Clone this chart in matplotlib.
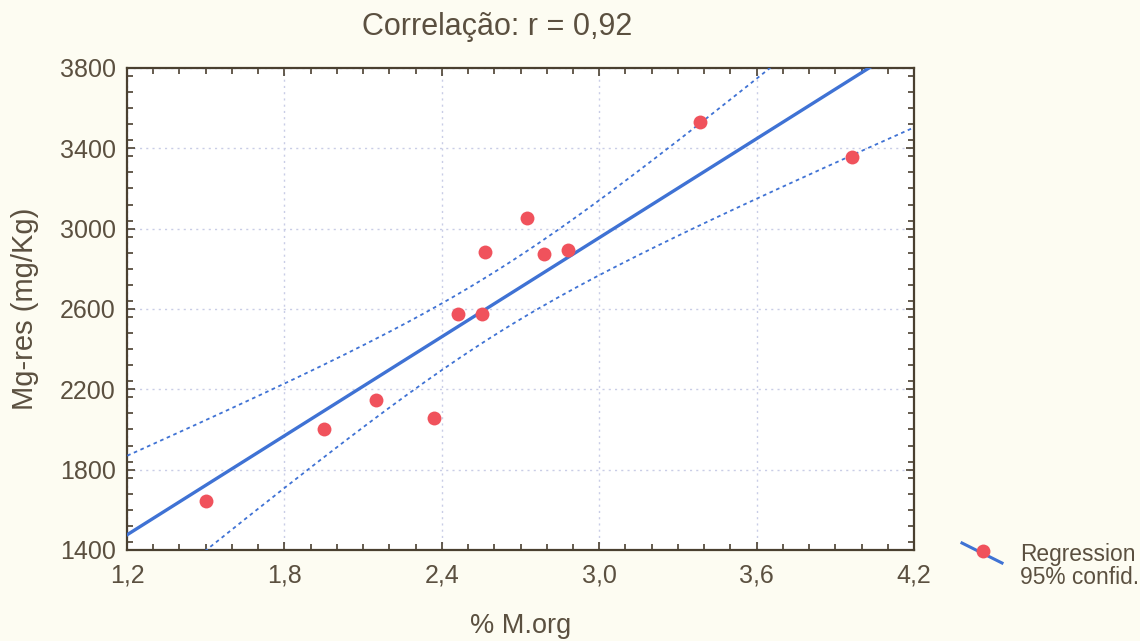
import numpy as np
import matplotlib
matplotlib.use('Agg')
from matplotlib import pyplot as plt
from matplotlib.lines import Line2D
from matplotlib.ticker import MultipleLocator, FuncFormatter

plt.rcParams['font.family'] = ['Liberation Sans', 'DejaVu Sans']

# % organic matter vs residual Mg
m_org = [1.50, 1.95, 2.15, 2.37, 2.46, 2.555, 2.565, 2.725, 2.79, 2.88, 3.385, 3.965]
mg_res = [1645, 2000, 2145, 2055, 2575, 2575, 2885, 3055, 2875, 2895, 3530, 3355]

x_ticks = [1.2, 1.8, 2.4, 3.0, 3.6, 4.2]
y_ticks = [1400, 1800, 2200, 2600, 3000, 3400, 3800]

txt = '#5b5040'
blue = '#3f72d4'
red = '#f0525c'

x = np.array(m_org)
y = np.array(mg_res)
n = len(x)

# least squares fit and 95% confidence band for the mean
b, a = np.polyfit(x, y, 1)
resid = y - (a + b * x)
s = np.sqrt(np.sum(resid**2) / (n - 2))
sxx = np.sum((x - x.mean())**2)
t_crit = 2.228  # t(0.975, df=10)
xs = np.linspace(1.0, 4.4, 200)
fit = a + b * xs
half = t_crit * s * np.sqrt(1.0/n + (xs - x.mean())**2 / sxx)

fig = plt.figure(figsize=[11.4, 6.41], dpi=100, facecolor='#fdfcf2')
ax = fig.add_axes([0.1114, 0.142, 0.6904, 0.752])
ax.set_facecolor('white')

ax.plot(xs, fit, color=blue, lw=2.4, zorder=3)
ax.plot(xs, fit + half, color=blue, lw=1.3, ls=(0, (2, 2)), zorder=3)
ax.plot(xs, fit - half, color=blue, lw=1.3, ls=(0, (2, 2)), zorder=3)
ax.plot(x, y, 'o', color=red, ms=10, mec='none', zorder=4)

ax.set_xlim(1.2, 4.2)
ax.set_ylim(1400, 3800)
ax.set_xticks(x_ticks)
ax.set_yticks(y_ticks)
ax.xaxis.set_minor_locator(MultipleLocator(0.1))
ax.yaxis.set_minor_locator(MultipleLocator(80))
ax.xaxis.set_major_formatter(FuncFormatter(lambda v, p: ('%.1f' % v).replace('.', ',')))
ax.tick_params(which='both', direction='in', top=True, right=True, colors='#4a4030',
               labelcolor=txt, labelsize=18, width=1.2)
ax.tick_params(which='major', length=6, pad=8)
ax.tick_params(which='minor', length=4)
ax.tick_params(axis='x', which='major', pad=10)
for sp in ax.spines.values():
    sp.set_color('#4a4030')
    sp.set_linewidth(1.6)
ax.grid(True, which='major', color='#c9cde6', ls=(0, (1.5, 3)), lw=1.0)

ax.set_title('Correlação: r = 0,92', color=txt, fontsize=22, pad=24, x=0.47)
ax.set_xlabel('% M.org', color=txt, fontsize=19.5, labelpad=18)
ax.set_ylabel('Mg-res (mg/Kg)', color=txt, fontsize=21, labelpad=15)

# legend key: slanted line with a dot
fig.add_artist(Line2D([962/1140, 1002/1140], [1-543/641, 1-563/641], color=blue, lw=2.2))
fig.add_artist(Line2D([983/1140], [1-551/641], marker='o', ms=10, color=red, mec='none'))
fig.text(1020/1140, 1-555/641, 'Regression', color=txt, fontsize=16.4, va='center')
fig.text(1020/1140, 1-578/641, '95% confid.', color=txt, fontsize=16.4, va='center')

fig.savefig('out.png', dpi=100, facecolor=fig.get_facecolor())
